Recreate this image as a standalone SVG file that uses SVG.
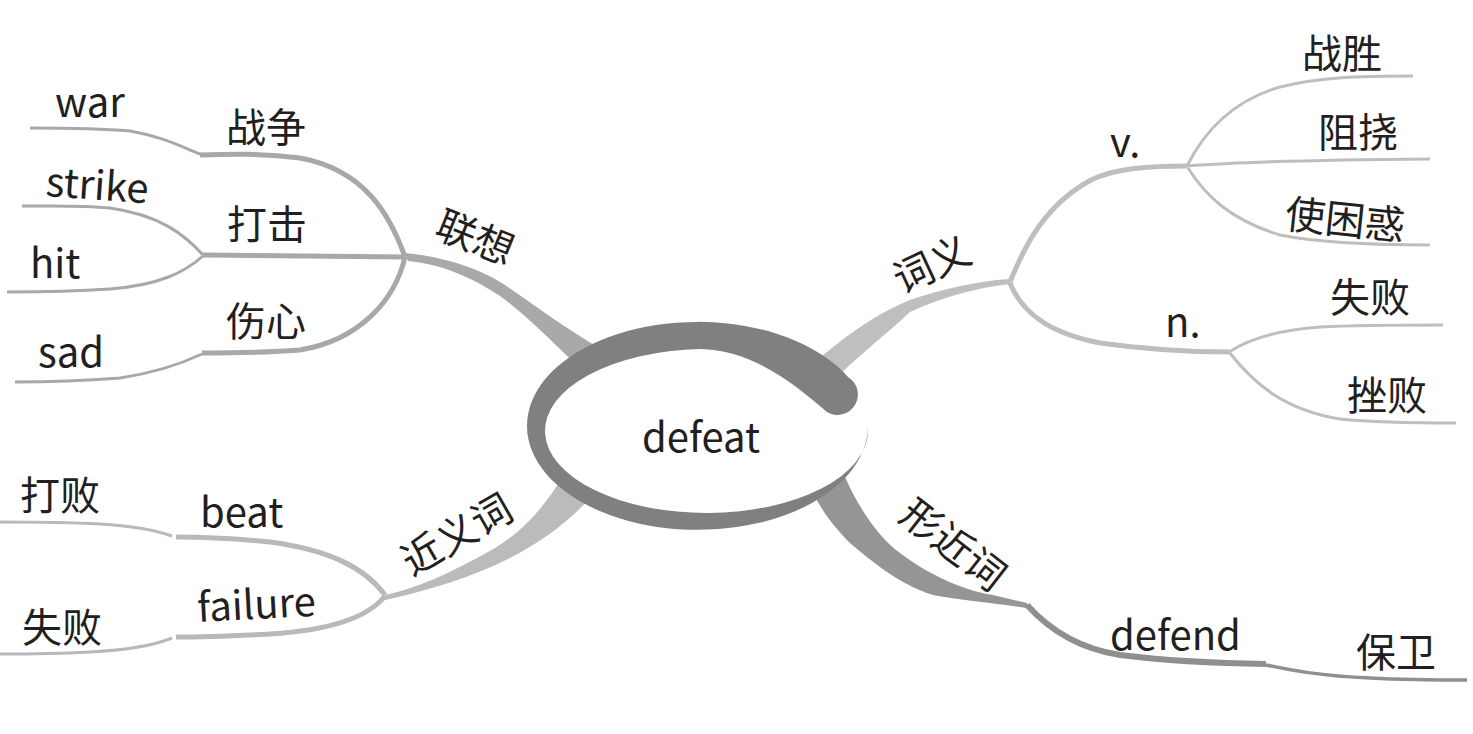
<svg xmlns="http://www.w3.org/2000/svg" width="1473" height="734" viewBox="0 0 1473 734">
<style>
text{font-family:"Noto Sans CJK SC","Noto Sans",sans-serif;font-size:40px;fill:#231f20}
.l{fill:none;stroke-linecap:butt}
.a{stroke:#a8a8a8}
.b{stroke:#b9b9b9}
.c{stroke:#bebebe}
.d{stroke:#8f8f8f}
.s5{stroke-width:5}
.s3{stroke-width:3}
</style>
<rect width="1473" height="734" fill="#ffffff"/>
<g id="connectors">
<path d="M405,253 C440,256 480,268 505,285 C530,302 560,325 606,352 L582,370 C555,345 530,318 500,296 C470,276 440,264 408,261 Z" fill="#a9a9a9"/>
<path d="M385,595 C420,588 460,568 495,548 C525,530 545,505 562,478 L590,498 C570,520 545,540 510,558 C470,578 430,590 385,600 Z" fill="#bbbbbb"/>
<path d="M1010,279 C975,281 940,290 910,300 C880,312 845,335 812,365 L830,385 C850,362 880,340 910,312 C940,298 975,288 1010,284 Z" fill="#bfbfbf"/>
<path d="M845,477 C855,500 875,535 900,553 C925,572 960,590 993,595 L1027,603 L1027,608 C1000,604 960,600 933,595 C900,585 870,560 850,543 C835,528 825,515 815,497 Z" fill="#959595"/>
<path class="l a s5" d="M405,257 C390,215 365,170 300,158 C260,153 230,154 200,155"/>
<path class="l a s3" d="M200,154 C180,146 160,136 130,131 C95,128 60,128 30,128"/>
<path class="l a s5" d="M405,257 L203,255"/>
<path class="l a s3" d="M203,255 C185,235 160,215 110,208 C80,205 50,206 22,206"/>
<path class="l a s3" d="M203,256 C185,272 160,285 110,289 C80,291 40,292 7,292"/>
<path class="l a s5" d="M405,257 C395,300 360,340 300,350 C260,353 230,353 202,353"/>
<path class="l a s3" d="M202,354 C185,362 160,372 120,378 C80,381 50,382 15,382"/>
<path class="l b s5" d="M385,595 C365,568 330,550 270,542 C230,538 200,537 176,537"/>
<path class="l b s3" d="M172,536 C155,530 135,526 100,524 C60,522 30,522 0,522"/>
<path class="l b s5" d="M385,596 C370,615 335,630 270,634 C230,636 200,637 176,637"/>
<path class="l b s3" d="M172,638 C155,645 130,650 90,652 C50,654 20,654 0,654"/>
<path class="l c s5" d="M1010,282 C1025,245 1045,205 1091,180 C1115,168 1150,166 1187,166"/>
<path class="l c s3" d="M1187,166 C1205,130 1235,100 1280,87 C1320,77 1360,76 1413,76"/>
<path class="l c s3" d="M1187,166 C1240,162 1300,160 1430,159"/>
<path class="l c s3" d="M1188,168 C1205,195 1230,220 1280,235 C1320,243 1370,245 1430,245"/>
<path class="l c s5" d="M1010,283 C1025,320 1060,335 1100,343 C1150,350 1190,352 1229,352"/>
<path class="l c s3" d="M1229,352 C1250,338 1280,330 1320,327 C1360,325 1400,325 1443,325"/>
<path class="l c s3" d="M1229,352 C1255,385 1285,410 1340,419 C1380,423 1420,423 1456,423"/>
<path class="l d" stroke-width="6" d="M1027,605 C1045,625 1075,648 1120,655 C1160,660 1200,663 1266,664"/>
<path class="l d" stroke-width="3.5" d="M1266,665 C1290,670 1320,676 1370,678 C1410,680 1440,680 1467,680"/>
</g>
<g id="center">
<path d="M848,377 A170.5,104 0 1 0 868,426 L868,431 A161.5,82 0 1 1 700,349 C750,350 790,380 827,412 A20,20 0 0 0 848,377 Z" fill="#808080"/>
<text x="701" y="452" text-anchor="middle">defeat</text>
</g>
<g id="lianxiang"><text x="475" y="252" text-anchor="middle" transform="rotate(22 475 238)">联想</text></g>
<g id="zhanzheng"><text x="226" y="142">战争</text></g>
<g id="war"><text x="55" y="117">war</text></g>
<g id="daji"><text x="227" y="239">打击</text></g>
<g id="strike"><text x="45" y="196" transform="rotate(4 45 196)">strike</text></g>
<g id="hit"><text x="30" y="278">hit</text></g>
<g id="shangxin"><text x="226" y="336">伤心</text></g>
<g id="sad"><text x="38" y="367">sad</text></g>
<g id="jinyici"><text x="457" y="549" text-anchor="middle" transform="rotate(-30 457 535)">近义词</text></g>
<g id="beat"><text x="200" y="527">beat</text></g>
<g id="dabai"><text x="20" y="510">打败</text></g>
<g id="failure"><text x="198" y="622" transform="rotate(-3 198 622)">failure</text></g>
<g id="shibai1"><text x="22" y="642">失败</text></g>
<g id="ciyi"><text x="932" y="279" text-anchor="middle" transform="rotate(-25 932 265)">词义</text></g>
<g id="v"><text x="1110" y="157">v.</text></g>
<g id="zhansheng"><text x="1302" y="68">战胜</text></g>
<g id="zunao"><text x="1318" y="147">阻挠</text></g>
<g id="shikunhuo"><text x="1284" y="228" transform="rotate(6 1284 228)">使困惑</text></g>
<g id="n"><text x="1165" y="337">n.</text></g>
<g id="shibai2"><text x="1330" y="312">失败</text></g>
<g id="cuobai"><text x="1347" y="410">挫败</text></g>
<g id="xingjinci"><text x="953" y="559" text-anchor="middle" transform="rotate(38 953 545)">形近词</text></g>
<g id="defend"><text x="1110" y="650">defend</text></g>
<g id="baowei"><text x="1356" y="667">保卫</text></g>
</svg>
